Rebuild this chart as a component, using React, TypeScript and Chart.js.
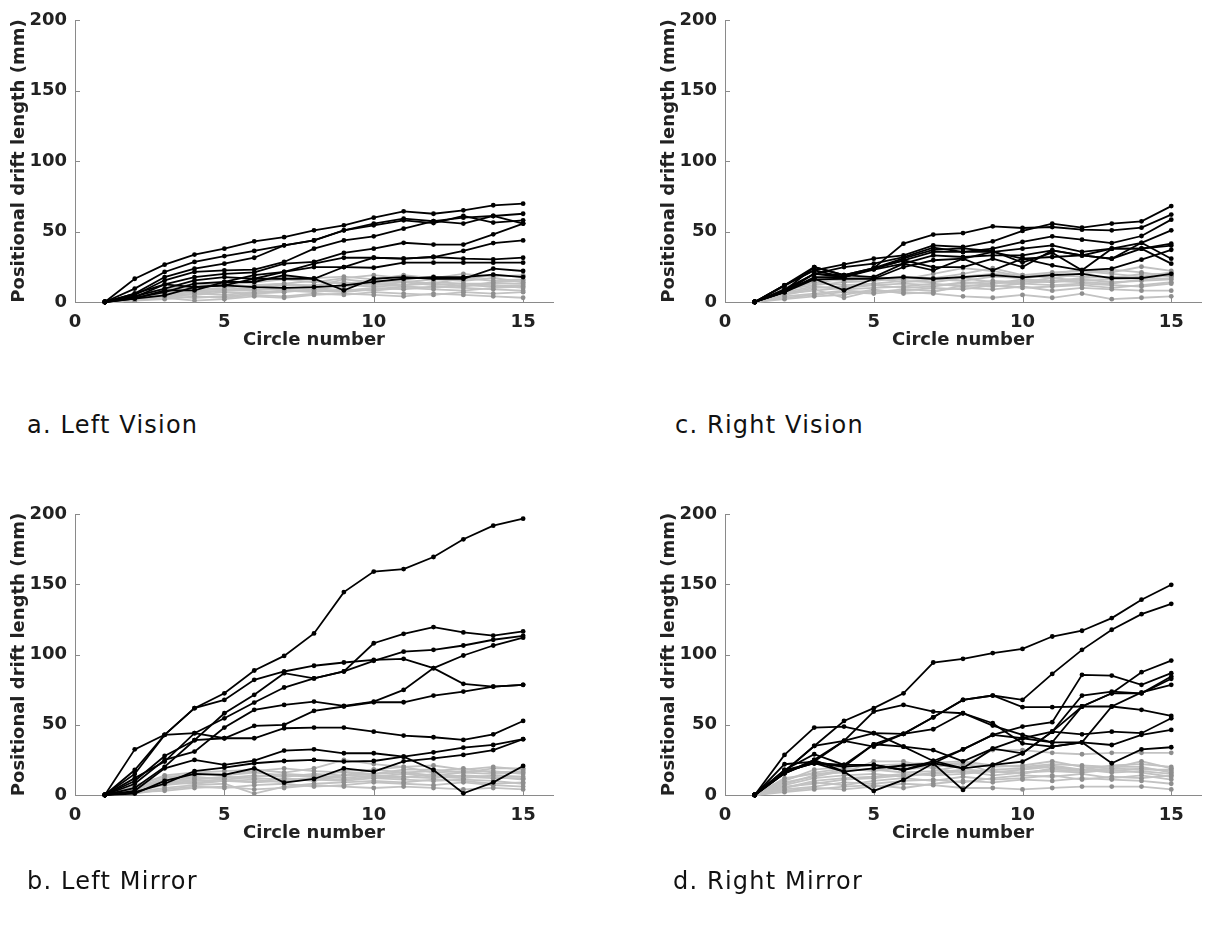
import React, { useEffect, useRef } from "react";
import { Chart, registerables } from "chart.js";

Chart.register(...registerables);

// ---------- data ----------
const circles = [1, 2, 3, 4, 5, 6, 7, 8, 9, 10, 11, 12, 13, 14, 15];
const xTickValues = [0, 5, 10, 15];
const yTickValues = [0, 50, 100, 150, 200];
const xTitle = "Circle number";
const yTitle = "Positional drift length (mm)";
const captionA = "a. Left Vision";
const captionB = "b. Left Mirror";
const captionC = "c. Right Vision";
const captionD = "d. Right Mirror";

// a. Left Vision
const leftVisionBlack = [
  [0, 16.5, 26.5, 33.6, 37.8, 43, 46, 50.8, 54.4, 59.8, 64.3, 62.6, 65, 68.6, 69.7],
  [0, 9.5, 21.3, 28.4, 32.6, 36.2, 40.2, 43.7, 50.8, 55.6, 59.1, 57.4, 59.8, 61, 62.6],
  [0, 6, 17.7, 23.6, 27.2, 31.4, 40.2, 43.7, 50.8, 54.4, 57.9, 56, 61, 56.3, 57.9],
  [0, 5, 15.4, 21.3, 22.5, 23, 28.4, 37.8, 43.7, 46.6, 52, 57.4, 55.6, 61, 55.6],
  [0, 3.5, 12.5, 17.7, 20, 21, 27.2, 28.4, 34.8, 37.8, 42, 40.7, 40.7, 48, 55.6],
  [0, 4, 9.5, 15.4, 17.7, 16.5, 21.3, 27.2, 31.4, 31.4, 30.7, 31.9, 36.2, 41.8, 43.7],
  [0, 3, 7, 13, 14.2, 14.2, 19, 16.5, 24.8, 31.4, 30.7, 31.9, 30.7, 30.3, 31.4],
  [0, 6, 12.5, 10.6, 11.8, 16.5, 16.5, 16.5, 8.3, 16.5, 17.7, 16.5, 16.5, 23.6, 22],
  [0, 2.4, 4.7, 10.6, 11.8, 10.6, 10, 10.6, 11.8, 14.2, 16.5, 17.7, 17.7, 19.4, 17.7],
  [0, 2.4, 8.3, 8.3, 14.2, 19, 21.3, 24.8, 24.8, 24.3, 27.9, 27.9, 27.9, 27.9, 27.9],
];
const leftVisionGray = [
  [0, 3, 6, 9, 10, 12, 13, 11, 16, 14, 15, 13, 17, 15, 16],
  [0, 2, 5, 7, 8, 9, 9, 10, 12, 11, 12, 14, 13, 13, 13],
  [0, 1, 3, 1, 2, 4, 3, 5, 6, 5, 4, 6, 5, 4, 3],
  [0, 4, 8, 11, 13, 15, 18, 17, 18, 16, 19, 17, 20, 18, 19],
  [0, 2, 4, 6, 5, 7, 8, 7, 9, 8, 10, 9, 8, 10, 11],
  [0, 3, 7, 10, 12, 11, 13, 15, 13, 15, 14, 16, 15, 17, 14],
  [0, 1, 2, 4, 3, 5, 4, 6, 5, 7, 6, 5, 7, 6, 7],
  [0, 5, 9, 13, 12, 14, 16, 14, 17, 19, 17, 18, 16, 19, 18],
  [0, 2, 6, 8, 9, 10, 12, 12, 14, 12, 14, 12, 13, 12, 10],
  [0, 3, 5, 5, 7, 6, 7, 9, 8, 10, 9, 11, 10, 9, 8],
  [0, 1, 4, 3, 4, 6, 8, 8, 7, 9, 11, 10, 12, 11, 12],
  [0, 2, 3, 6, 8, 8, 10, 9, 11, 13, 12, 13, 11, 14, 15],
];

// b. Left Mirror
const leftMirrorBlack = [
  [0, 32.5, 42.8, 61.8, 72.4, 88.6, 99, 115, 144.4, 159, 160.8, 169.4, 182, 191.7, 196.7],
  [0, 10, 27.8, 39, 58.2, 71.3, 86.7, 83, 87.9, 108, 114.7, 119.5, 115.7, 113.5, 116.4],
  [0, 12, 23.8, 44, 54.6, 65.8, 76.5, 83, 88, 95.5, 102, 103.3, 106.4, 110.5, 113.3],
  [0, 17.8, 42.8, 61.8, 67.7, 82, 87.9, 92, 94.3, 96.2, 96.9, 90.3, 79.1, 77.2, 78.4],
  [0, 8, 25, 30.9, 48, 60.6, 64.1, 66.5, 63.4, 66.5, 74.8, 90.3, 99.3, 106.4, 112],
  [0, 5, 20, 39, 40.4, 49.2, 49.9, 59.9, 63, 66, 66, 70.8, 73.6, 77.2, 78.4],
  [0, 15, 42.8, 44, 40.4, 40.4, 47.5, 48, 48, 45.1, 42.3, 41.1, 39.2, 43.2, 52.7],
  [0, 3, 19, 25, 21.4, 24.5, 31.6, 32.5, 29.7, 29.7, 27.3, 17.8, 1.2, 9, 20.7],
  [0, 2, 8, 17, 19.5, 22.6, 24.2, 25, 23.8, 24.2, 27.3, 30.4, 33.7, 35.6, 39.7],
  [0, 1, 10, 15, 14.3, 19, 8.8, 11.4, 19, 16.6, 24, 26, 28.5, 32, 39.7],
];
const leftMirrorGray = [
  [0, 3, 8, 10, 11, 9, 12, 10, 14, 13, 15, 13, 12, 14, 13],
  [0, 5, 12, 15, 14, 16, 14, 13, 17, 18, 16, 17, 19, 16, 17],
  [0, 2, 5, 7, 8, 1, 6, 8, 9, 10, 9, 11, 10, 8, 9],
  [0, 6, 14, 16, 17, 18, 16, 19, 25, 22, 20, 21, 18, 20, 18],
  [0, 4, 9, 11, 13, 12, 11, 12, 14, 15, 16, 14, 16, 15, 16],
  [0, 1, 4, 6, 5, 7, 8, 6, 7, 9, 8, 7, 9, 7, 6],
  [0, 7, 13, 14, 15, 17, 19, 17, 16, 15, 18, 18, 16, 19, 19],
  [0, 3, 7, 9, 10, 11, 9, 12, 11, 13, 12, 15, 13, 12, 12],
  [0, 2, 3, 5, 6, 4, 5, 7, 6, 5, 6, 5, 4, 5, 4],
  [0, 5, 10, 12, 12, 14, 13, 15, 14, 18, 20, 16, 17, 17, 15],
  [0, 4, 11, 13, 11, 13, 15, 14, 12, 14, 13, 12, 14, 13, 11],
  [0, 6, 9, 8, 10, 9, 10, 11, 10, 12, 11, 10, 11, 10, 8],
];

// c. Right Vision
const rightVisionBlack = [
  [0, 8, 24.8, 19, 24, 41.4, 47.8, 48.9, 53.7, 52.5, 53.2, 51.3, 50.8, 52.7, 62],
  [0, 11.8, 22.5, 26.7, 30.7, 33, 40.2, 39, 43, 50.4, 55.6, 52.7, 55.6, 57.2, 68],
  [0, 8.3, 20, 24.8, 27.2, 31.9, 38.5, 35.5, 37.8, 42.6, 46.6, 44.2, 41.8, 46.8, 58.4],
  [0, 7, 17.7, 17.7, 23.6, 29.6, 35.5, 35.5, 35.5, 37.8, 40.2, 35.5, 37.8, 42, 50.8],
  [0, 11.8, 24.8, 19, 17.7, 27.2, 33, 31.9, 33, 33, 36.6, 33, 37.8, 37.8, 41.4],
  [0, 8.3, 16.5, 8.3, 16.5, 24.8, 29.6, 30.7, 35.5, 30.7, 31.9, 33, 30.7, 37.8, 40],
  [0, 7, 20, 17.7, 23.6, 29.6, 24.8, 24.8, 30.7, 24.8, 36.6, 33, 30.7, 42, 30.7],
  [0, 11.8, 22.5, 17.7, 23, 27.2, 22.5, 30.7, 22.5, 30.7, 26, 22.5, 37.8, 37.8, 27.2],
  [0, 7, 16, 16.5, 16.5, 17.7, 16.5, 17.7, 19, 17.5, 19, 20, 17, 17, 20],
  [0, 9, 20, 19, 24, 31, 37, 38, 36, 28, 35, 22.5, 23.6, 30, 37],
];
const rightVisionGray = [
  [0, 5, 9, 3, 8, 7, 6, 4, 3, 5, 3, 6, 2, 3, 4],
  [0, 8, 14, 12, 13, 15, 14, 17, 14, 13, 15, 14, 13, 16, 17],
  [0, 10, 16, 15, 17, 14, 16, 18, 20, 19, 21, 22, 20, 18, 21],
  [0, 4, 6, 8, 7, 9, 8, 10, 9, 11, 8, 10, 9, 8, 8],
  [0, 12, 13, 17, 18, 16, 20, 24, 22, 18, 20, 23, 21, 25, 22],
  [0, 6, 10, 11, 12, 13, 12, 13, 15, 14, 17, 15, 16, 17, 19],
  [0, 3, 5, 7, 6, 8, 10, 9, 12, 10, 11, 12, 10, 12, 14],
  [0, 9, 12, 14, 15, 17, 16, 15, 18, 17, 19, 18, 17, 20, 20],
  [0, 7, 11, 9, 10, 11, 13, 11, 13, 15, 14, 16, 14, 15, 16],
  [0, 2, 4, 5, 9, 6, 7, 12, 11, 13, 12, 13, 12, 11, 13],
  [0, 11, 15, 16, 16, 18, 17, 20, 24, 19, 17, 20, 23, 21, 18],
  [0, 6, 8, 10, 12, 10, 11, 14, 13, 16, 15, 17, 18, 17, 19],
];

// d. Right Mirror
const rightMirrorBlack = [
  [0, 17, 34.9, 52.7, 61.8, 72.4, 94.3, 96.9, 101, 104, 112.8, 116.9, 125.9, 139, 149.6],
  [0, 15.4, 25, 38.5, 34.4, 43.5, 55.3, 67.7, 70.8, 67.7, 86.2, 103.3, 117.6, 128.7, 136.1],
  [0, 16.6, 22.6, 16.6, 2.9, 10.7, 22.6, 3.6, 21.4, 29.7, 45.1, 63, 72.4, 87.4, 95.7],
  [0, 21.9, 23.8, 20.2, 21.4, 17.8, 24.2, 32.5, 42.8, 48.7, 51.8, 85.5, 85, 78.4, 86.7],
  [0, 28.5, 48, 48.7, 44, 34.4, 32, 24, 33, 40.4, 45.1, 70.8, 73.6, 72.4, 84.3],
  [0, 16.6, 34.9, 38.5, 59.4, 64.1, 59.4, 58.2, 49.4, 42.8, 37.5, 63, 72.4, 72.4, 82.7],
  [0, 17.8, 29, 21.4, 36.1, 43.5, 46.8, 58.2, 51.1, 36.8, 34.4, 37.5, 63, 73, 78.4],
  [0, 15.4, 23.8, 38.5, 44, 43.5, 55.3, 67.7, 70.8, 62.5, 62.5, 63, 63, 60.6, 56.3],
  [0, 16.6, 22.6, 20.2, 36.1, 34.4, 24.2, 19, 33, 29.7, 45.1, 43.2, 45.1, 44, 54.6],
  [0, 17.8, 22.6, 21.4, 21.4, 17.8, 22.6, 32.5, 42.8, 40.4, 37.5, 37.5, 35.6, 42.8, 46.3],
  [0, 15.4, 25, 16.6, 19, 21, 22.6, 19, 21.4, 23.8, 34.4, 37.5, 22.6, 32.5, 34],
];
const rightMirrorGray = [
  [0, 8, 14, 18, 18, 16, 17, 21, 32, 32, 30, 29, 30, 30, 30],
  [0, 5, 10, 12, 13, 15, 14, 15, 17, 16, 18, 17, 19, 24, 19],
  [0, 3, 5, 4, 6, 8, 7, 5, 5, 4, 5, 6, 6, 6, 4],
  [0, 10, 18, 20, 21, 22, 23, 24, 21, 20, 22, 21, 20, 20, 16],
  [0, 6, 8, 11, 12, 14, 15, 17, 14, 16, 17, 16, 18, 16, 13],
  [0, 12, 15, 16, 24, 24, 19, 16, 18, 19, 21, 18, 17, 19, 17],
  [0, 4, 6, 9, 8, 10, 11, 9, 12, 14, 13, 15, 12, 14, 11],
  [0, 7, 12, 14, 15, 13, 16, 18, 17, 15, 19, 18, 16, 17, 15],
  [0, 2, 4, 6, 7, 5, 8, 10, 9, 11, 10, 12, 11, 10, 8],
  [0, 9, 13, 17, 19, 18, 20, 22, 20, 21, 24, 20, 19, 18, 18],
  [0, 5, 9, 7, 10, 12, 10, 13, 11, 12, 14, 11, 13, 12, 14],
  [0, 11, 16, 19, 17, 20, 21, 23, 16, 18, 20, 18, 21, 22, 20],
];

// ---------- styling ----------
const AXIS_COLOR = "#8a8a8a";
const TEXT_COLOR = "#222222";
const BLACK_LINE = "#000000";
const GRAY_LINE = "#c2c2c2";
const GRAY_POINT = "#8e8e8e";
const LABEL_FONT = "'DejaVu Sans', 'Liberation Sans', sans-serif";

const inwardTicks = {
  id: "inwardTicks",
  beforeDatasetsDraw(chart: any) {
    const { ctx, chartArea } = chart;
    const xs = chart.scales.x;
    const ys = chart.scales.y;
    ctx.save();
    ctx.strokeStyle = AXIS_COLOR;
    ctx.lineWidth = 1;
    xs.ticks.forEach((t: any) => {
      const px = Math.round(xs.getPixelForValue(t.value)) + 0.5;
      ctx.beginPath();
      ctx.moveTo(px, chartArea.bottom);
      ctx.lineTo(px, chartArea.bottom - 5);
      ctx.stroke();
    });
    ys.ticks.forEach((t: any) => {
      const py = Math.round(ys.getPixelForValue(t.value)) + 0.5;
      ctx.beginPath();
      ctx.moveTo(chartArea.left, py);
      ctx.lineTo(chartArea.left + 5, py);
      ctx.stroke();
    });
    ctx.restore();
  },
};

type PanelProps = {
  black: number[][];
  gray: number[][];
  left: number;
  top: number;
  width: number;
  height: number;
  plotTop: number;
  plotBottom: number;
  plotRight: number;
};

function Panel({ black, gray, left, top, width, height, plotTop, plotBottom, plotRight }: PanelProps) {
  const ref = useRef<HTMLCanvasElement | null>(null);
  useEffect(() => {
    if (!ref.current) return;
    const xAxisHeight = 52;
    const yAxisWidth = 75;
    const mk = (vals: number[], isBlack: boolean) => ({
      data: vals.map((v, i) => ({ x: circles[i], y: v })),
      borderColor: isBlack ? BLACK_LINE : GRAY_LINE,
      backgroundColor: isBlack ? BLACK_LINE : GRAY_POINT,
      pointBackgroundColor: isBlack ? BLACK_LINE : GRAY_POINT,
      pointBorderColor: isBlack ? BLACK_LINE : GRAY_POINT,
      pointRadius: 2.4,
      pointBorderWidth: 0,
      borderWidth: 1.8,
      tension: 0,
      fill: false,
      clip: false,
      order: isBlack ? 0 : 1,
    });
    const chart = new Chart(ref.current, {
      type: "line",
      data: {
        datasets: [...black.map((v) => mk(v, true)), ...gray.map((v) => mk(v, false))],
      },
      plugins: [inwardTicks],
      options: {
        animation: false,
        responsive: false,
        maintainAspectRatio: false,
        devicePixelRatio: 1,
        events: [],
        layout: {
          padding: {
            left: 0,
            top: plotTop,
            right: width - plotRight,
            bottom: height - plotBottom - xAxisHeight,
          },
        },
        plugins: { legend: { display: false }, tooltip: { enabled: false } },
        scales: {
          x: {
            type: "linear",
            min: 0,
            max: 16,
            afterBuildTicks: (s: any) => {
              s.ticks = xTickValues.map((v) => ({ value: v }));
            },
            afterFit: (s: any) => {
              s.height = xAxisHeight;
            },
            grid: { display: false, drawTicks: false },
            border: { display: true, color: AXIS_COLOR, width: 1 },
            ticks: {
              padding: 10,
              color: TEXT_COLOR,
              font: { family: LABEL_FONT, size: 18, weight: "bold" },
              maxRotation: 0,
              autoSkip: false,
            },
            title: {
              display: true,
              text: xTitle,
              color: TEXT_COLOR,
              font: { family: LABEL_FONT, size: 18, weight: "bold" },
              padding: { top: 0, bottom: 3 },
            },
          },
          y: {
            type: "linear",
            min: 0,
            max: 200,
            afterBuildTicks: (s: any) => {
              s.ticks = yTickValues.map((v) => ({ value: v }));
            },
            afterFit: (s: any) => {
              s.width = yAxisWidth;
            },
            grid: { display: false, drawTicks: false },
            border: { display: true, color: AXIS_COLOR, width: 1 },
            ticks: {
              padding: 8,
              color: TEXT_COLOR,
              font: { family: LABEL_FONT, size: 18, weight: "bold" },
              autoSkip: false,
            },
            title: {
              display: true,
              text: yTitle,
              color: TEXT_COLOR,
              font: { family: LABEL_FONT, size: 18, weight: "bold" },
              padding: { top: 9, bottom: 0 },
            },
          },
        },
      } as any,
    });
    return () => chart.destroy();
  }, [black, gray, width, height, plotTop, plotBottom, plotRight]);
  return (
    <canvas
      ref={ref}
      width={width}
      height={height}
      style={{ position: "absolute", left, top, width, height }}
    />
  );
}

const captionStyle: React.CSSProperties = {
  position: "absolute",
  fontFamily: "'DejaVu Sans', sans-serif",
  fontSize: 24,
  lineHeight: "24px",
  letterSpacing: "1.2px",
  color: "#111111",
  whiteSpace: "nowrap",
};

export default function App() {
  return (
    <div
      style={{
        position: "fixed",
        left: 0,
        top: 0,
        width: 1205,
        height: 931,
        background: "#ffffff",
        overflow: "hidden",
      }}
    >
      <Panel black={leftVisionBlack} gray={leftVisionGray} left={0} top={0} width={600} height={380} plotTop={20} plotBottom={302} plotRight={553} />
      <Panel black={rightVisionBlack} gray={rightVisionGray} left={650} top={0} width={555} height={380} plotTop={20} plotBottom={302} plotRight={554} />
      <Panel black={leftMirrorBlack} gray={leftMirrorGray} left={0} top={494} width={600} height={380} plotTop={20} plotBottom={301} plotRight={553} />
      <Panel black={rightMirrorBlack} gray={rightMirrorGray} left={650} top={494} width={555} height={380} plotTop={20} plotBottom={301} plotRight={554} />
      <div style={{ ...captionStyle, left: 27, top: 413 }}>{captionA}</div>
      <div style={{ ...captionStyle, left: 675, top: 413 }}>{captionC}</div>
      <div style={{ ...captionStyle, left: 27, top: 869 }}>{captionB}</div>
      <div style={{ ...captionStyle, left: 673, top: 869 }}>{captionD}</div>
    </div>
  );
}
